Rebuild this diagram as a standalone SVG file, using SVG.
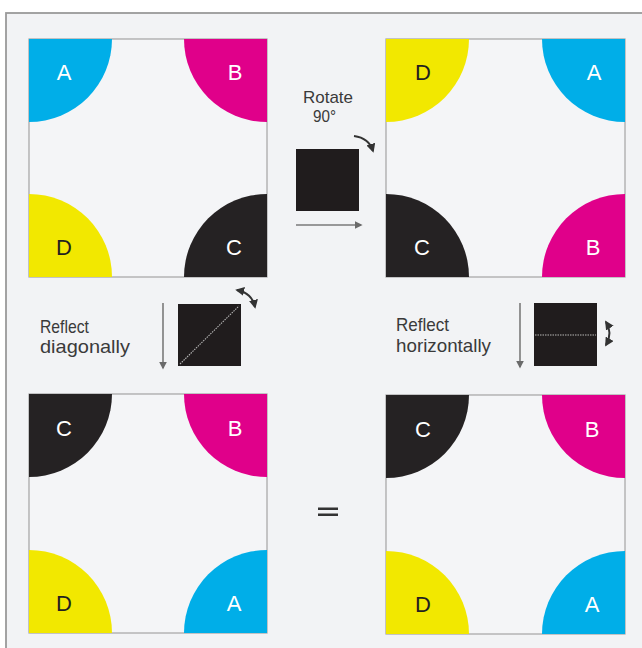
<svg xmlns="http://www.w3.org/2000/svg" width="642" height="648" viewBox="0 0 642 648">
<defs>
<style>
.frame{fill:#f2f3f5;stroke:#9a9a9a;stroke-width:1.8}
.sq{fill:#f4f5f7;stroke:#a3a3a3;stroke-width:1.2}
.cy{fill:#00aee8}.mg{fill:#e0008a}.ye{fill:#f2e800}.bk{fill:#252223}
.lt{font-family:"Liberation Sans",Arial,sans-serif;font-size:22px;text-anchor:middle}
.w{fill:#ffffff}.d{fill:#231f20}
.lab{font-family:"Liberation Sans",Arial,sans-serif;font-size:19px;fill:#3a3a3a}
.rot{font-family:"Liberation Sans",Arial,sans-serif;font-size:17px;fill:#3a3a3a}
.arr{stroke:#7a7a7a;stroke-width:1.6;fill:none}
.ic{fill:#201c1d}
</style>
<marker id="ah" viewBox="0 0 10 10" refX="8" refY="5" markerWidth="5" markerHeight="5" orient="auto-start-reverse"><path d="M0,0 L10,5 L0,10 z" fill="#6a6a6a"/></marker>
<marker id="ahd" viewBox="0 0 10 10" refX="8" refY="5" markerWidth="4.5" markerHeight="4.5" orient="auto-start-reverse"><path d="M0,0 L10,5 L0,10 z" fill="#333"/></marker>
</defs>
<rect width="642" height="648" fill="#ffffff"/>
<rect class="frame" x="6" y="13" width="650" height="650"/>

<g id="sq-top-left" transform="translate(29,39)">
<rect class="sq" width="238" height="238"/>
<path class="cy" d="M0,0 h83 a83,83 0 0 1 -83,83 z"/>
<path class="mg" d="M238,0 v83 a83,83 0 0 1 -83,-83 z"/>
<path class="bk" d="M238,238 h-83 a83,83 0 0 1 83,-83 z"/>
<path class="ye" d="M0,238 v-83 a83,83 0 0 1 83,83 z"/>
<text class="lt w" x="35" y="41">A</text>
<text class="lt w" x="206" y="41">B</text>
<text class="lt w" x="205" y="216">C</text>
<text class="lt d" x="35" y="216">D</text>
</g>

<g id="sq-top-right" transform="translate(386,39)">
<rect class="sq" width="239" height="238"/>
<path class="ye" d="M0,0 h83 a83,83 0 0 1 -83,83 z"/>
<path class="cy" d="M239,0 v83 a83,83 0 0 1 -83,-83 z"/>
<path class="mg" d="M239,238 h-83 a83,83 0 0 1 83,-83 z"/>
<path class="bk" d="M0,238 v-83 a83,83 0 0 1 83,83 z"/>
<text class="lt d" x="37" y="41">D</text>
<text class="lt w" x="208" y="41">A</text>
<text class="lt w" x="207" y="216">B</text>
<text class="lt w" x="36" y="216">C</text>
</g>

<g id="sq-bottom-left" transform="translate(29,394)">
<rect class="sq" width="238" height="239"/>
<path class="bk" d="M0,0 h83 a83,83 0 0 1 -83,83 z"/>
<path class="mg" d="M238,0 v83 a83,83 0 0 1 -83,-83 z"/>
<path class="cy" d="M238,239 h-83 a83,83 0 0 1 83,-83 z"/>
<path class="ye" d="M0,239 v-83 a83,83 0 0 1 83,83 z"/>
<text class="lt w" x="35" y="42">C</text>
<text class="lt w" x="206" y="42">B</text>
<text class="lt w" x="205" y="217">A</text>
<text class="lt d" x="35" y="217">D</text>
</g>

<g id="sq-bottom-right" transform="translate(386,395)">
<rect class="sq" width="239" height="239"/>
<path class="bk" d="M0,0 h83 a83,83 0 0 1 -83,83 z"/>
<path class="mg" d="M239,0 v83 a83,83 0 0 1 -83,-83 z"/>
<path class="cy" d="M239,239 h-83 a83,83 0 0 1 83,-83 z"/>
<path class="ye" d="M0,239 v-83 a83,83 0 0 1 83,83 z"/>
<text class="lt w" x="37" y="42">C</text>
<text class="lt w" x="206" y="42">B</text>
<text class="lt w" x="206" y="217">A</text>
<text class="lt d" x="37" y="217">D</text>
</g>

<g id="rotate">
<text class="rot" x="303" y="103" textLength="50" lengthAdjust="spacingAndGlyphs">Rotate</text>
<text class="rot" x="313" y="122" textLength="23" lengthAdjust="spacingAndGlyphs">90°</text>
<rect class="ic" x="296" y="149" width="63" height="62"/>
</g>

<g id="reflect-diag">
<text class="lab" x="40" y="333" textLength="49" lengthAdjust="spacingAndGlyphs">Reflect</text>
<text class="lab" x="40" y="353" textLength="90" lengthAdjust="spacingAndGlyphs">diagonally</text>
<rect class="ic" x="178" y="304" width="63" height="62"/>
<line x1="180" y1="364" x2="239" y2="306" stroke="#b5b5b5" stroke-width="1.1" stroke-dasharray="1.5,1"/>
</g>

<g id="reflect-horiz">
<text class="lab" x="396" y="331" textLength="53" lengthAdjust="spacingAndGlyphs">Reflect</text>
<text class="lab" x="396" y="352" textLength="95" lengthAdjust="spacingAndGlyphs">horizontally</text>
<rect class="ic" x="534" y="303" width="63" height="63"/>
<line x1="535" y1="335" x2="596" y2="335" stroke="#b5b5b5" stroke-width="1.1" stroke-dasharray="1.5,1"/>
</g>

<g id="equals">
<rect x="318" y="507.5" width="20" height="2.5" fill="#333"/>
<rect x="318" y="513.5" width="20" height="2.5" fill="#333"/>
</g>

<g id="connectors">
<line class="arr" x1="296" y1="225" x2="361" y2="225" marker-end="url(#ah)"/>
<path d="M354,136 Q369,138 373,151" fill="none" stroke="#333" stroke-width="2" marker-end="url(#ahd)"/>
<line class="arr" x1="163" y1="303" x2="163" y2="368" marker-end="url(#ah)"/>
<line class="arr" x1="520" y1="303" x2="520" y2="367" marker-end="url(#ah)"/>
<path d="M237,290 Q252,293 255,307" fill="none" stroke="#333" stroke-width="2" marker-start="url(#ahd)" marker-end="url(#ahd)"/>
<path d="M606,322 Q613,333 606,345" fill="none" stroke="#333" stroke-width="2" marker-start="url(#ahd)" marker-end="url(#ahd)"/>
</g>
</svg>
